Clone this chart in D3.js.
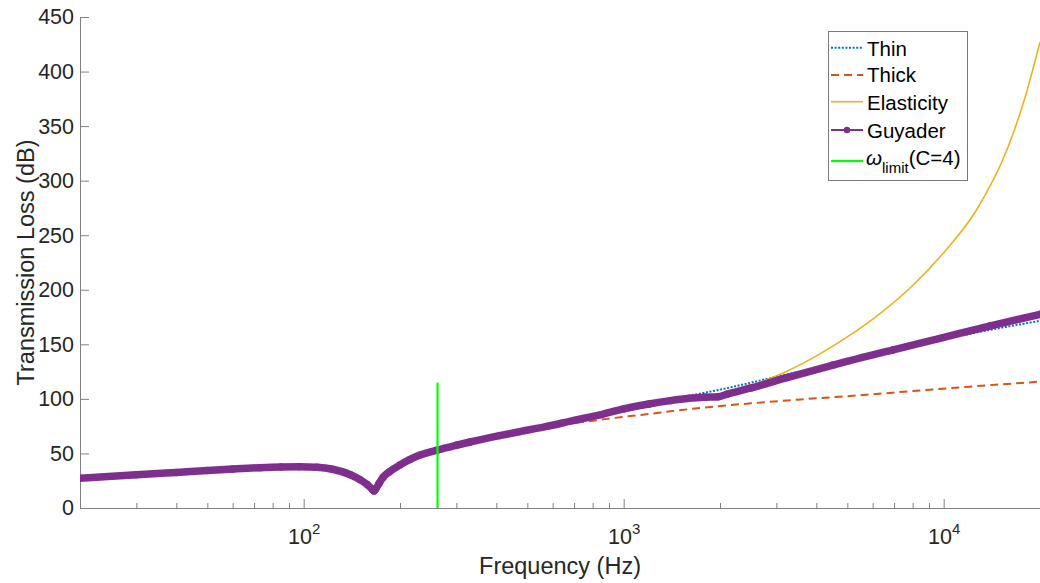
<!DOCTYPE html>
<html>
<head>
<meta charset="utf-8">
<script src="https://cdn.jsdelivr.net/npm/d3@7"></script>
<style>
  html, body { margin: 0; padding: 0; background: #fff; }
  svg { display: block; font-family: "Liberation Sans", Arial, Helvetica, sans-serif; }
</style>
</head>
<body>
<svg id="chart" width="1040" height="583"></svg>
<script>
// ---------------- DATA ----------------
// Shared low-frequency part (all four models coincide here)
const lowFreq = [20, 30, 40, 50, 60, 73, 85, 97, 110, 123, 140, 150, 158, 164, 166, 168, 172, 177, 185, 200, 215, 231, 261, 300, 331, 409, 474];
const lowTL   = [27.2, 30.4, 32.6, 34.3, 35.7, 37.0, 37.6, 37.8, 37.3, 35.5, 30.5, 26, 21.5, 17, 15.5, 17.5, 22.5, 28, 33, 39.5, 44.5, 48.5, 53, 57.5, 60.5, 66.3, 70];

// Thin plate model
const thinFreqHi = [575, 700, 850, 1000, 1400, 2000, 3240, 4500, 6000, 8000, 10000, 13000, 16000, 20000];
const thinTLHi   = [74.8, 80.3, 85.6, 91.3, 99.6, 108.5, 122.5, 131.5, 140, 148.5, 154.5, 161.5, 166.5, 171.5];

// Thick plate model
const thickFreqHi = [500, 575, 700, 850, 1000, 1125, 1400, 1800, 2500, 3500, 5750, 8000, 12000, 20000];
const thickTLHi   = [71.4, 74.2, 77.8, 81, 83.6, 85.2, 88.6, 92.2, 95.9, 99.3, 103.8, 107.2, 111.2, 115.8];

// Elasticity model
const elasFreqHi = [575, 700, 850, 1000, 1259, 1585, 1995, 2512, 3162, 3981, 5012, 6310, 7943, 10000, 12589, 15849, 17783, 20000];
const elasTLHi   = [74.8, 80.3, 85.6, 90.5, 95.3, 99.3, 103.2, 112.5, 124, 139, 157, 178, 203, 234, 272, 330, 372, 427];

// Guyader model
const guyFreqHi = [575, 700, 850, 1000, 1200, 1400, 1600, 1800, 1972, 2100, 2500, 3240, 4510, 6960, 9740, 14000, 20000];
const guyTLHi   = [74.8, 80.3, 85.6, 90.8, 95.3, 98.4, 100.5, 101.6, 102.0, 104.2, 110, 119.5, 131, 145, 155.5, 167, 177.5];

// omega_limit (C=4) vertical marker
const omegaLimitFreq = 262;
const omegaLimitTop = 115;

// Axes ticks
const yTicks = [0, 50, 100, 150, 200, 250, 300, 350, 400, 450];
const xMajorTicks = [100, 1000, 10000];
const xMajorExp = ["2", "3", "4"];
const xMinorTicks = [30, 40, 50, 60, 70, 80, 90, 200, 300, 400, 500, 600, 700, 800, 900,
                     2000, 3000, 4000, 5000, 6000, 7000, 8000, 9000];

const legendLabels = ["Thin", "Thick", "Elasticity", "Guyader"];

// ---------------- BUILD SERIES ----------------
function build(fLo, tLo, fHi, tHi) {
  const pts = [];
  fLo.forEach((f, i) => { if (f < fHi[0]) pts.push({ f: f, v: tLo[i] }); });
  fHi.forEach((f, i) => pts.push({ f: f, v: tHi[i] }));
  return pts;
}
const thin  = build(lowFreq, lowTL.map((v, i) => lowFreq[i] === 166 ? 14.5 : v), thinFreqHi, thinTLHi);
const thick = build(lowFreq, lowTL, thickFreqHi, thickTLHi);
const elas  = build(lowFreq, lowTL, elasFreqHi, elasTLHi);
const guy   = build(lowFreq, lowTL, guyFreqHi, guyTLHi);

// ---------------- CHART ----------------
const svg = d3.select("#chart");
const L = 80, R = 1040, T = 17, B = 508;
const x = d3.scaleLog().domain([20, 20000]).range([L, R]);
const y = d3.scaleLinear().domain([0, 450]).range([B, T]);

const COLORS = { thin: "#0072BD", thick: "#D95319", elas: "#EDB120", guy: "#7E2F8E", omega: "#00FF00" };
const axisColor = "#808080";
const textColor = "#262626";

svg.append("defs").append("clipPath").attr("id", "plotclip")
  .append("rect").attr("x", L).attr("y", T - 5).attr("width", R - L).attr("height", B - T + 5);

// Axes
const gx = svg.append("g").attr("transform", `translate(0,${B})`);
gx.call(d3.axisBottom(x).tickValues(xMinorTicks).tickSize(-5).tickSizeOuter(0).tickFormat(""));
const gx2 = svg.append("g").attr("transform", `translate(0,${B})`);
gx2.call(d3.axisBottom(x).tickValues(xMajorTicks).tickSize(-9).tickSizeOuter(0).tickPadding(20).tickFormat(""));
[gx, gx2].forEach(g => {
  g.selectAll("path.domain").attr("stroke", axisColor);
  g.selectAll(".tick line").attr("stroke", axisColor);
});
gx2.selectAll(".tick text").each(function (d, i) {
  const t = d3.select(this);
  t.text(null).attr("fill", textColor).attr("font-size", "21.5px").attr("dy", null)
    .attr("y", 35.5).attr("text-anchor", "middle").attr("dx", 0)
    .attr("font-family", "'Liberation Sans', Arial, sans-serif");
  t.append("tspan").text("10");
  t.append("tspan").attr("font-size", "15px").attr("dy", "-10").text(xMajorExp[i]);
});
gx2.select("path.domain").remove();

const gy = svg.append("g").attr("transform", `translate(${L},0)`);
gy.call(d3.axisLeft(y).tickValues(yTicks).tickSize(-9).tickSizeOuter(0).tickPadding(6));
gy.selectAll("path.domain").attr("stroke", axisColor);
gy.selectAll(".tick line").attr("stroke", axisColor);
gy.selectAll(".tick text").attr("fill", textColor).attr("font-size", "21.5px")
  .attr("font-family", "'Liberation Sans', Arial, sans-serif");

// Axis labels
svg.append("text").attr("x", (L + R) / 2).attr("y", 574).attr("text-anchor", "middle")
  .attr("font-size", "23.5px").attr("fill", textColor).text("Frequency (Hz)");
svg.append("text").attr("transform", `translate(34,${(T + B) / 2}) rotate(-90)`)
  .attr("text-anchor", "middle").attr("font-size", "23.5px").attr("fill", textColor)
  .text("Transmission Loss (dB)");

// Lines
const line = d3.line().x(d => x(d.f)).y(d => y(d.v)).curve(d3.curveMonotoneX);
const plot = svg.append("g").attr("clip-path", "url(#plotclip)");

plot.append("path").datum(thin).attr("d", line).attr("fill", "none")
  .attr("stroke", COLORS.thin).attr("stroke-width", 2).attr("stroke-dasharray", "2,1.6");
plot.append("path").datum(thick).attr("d", line).attr("fill", "none")
  .attr("stroke", COLORS.thick).attr("stroke-width", 2).attr("stroke-dasharray", "8,5");
plot.append("path").datum(elas).attr("d", line).attr("fill", "none")
  .attr("stroke", COLORS.elas).attr("stroke-width", 1.6);
plot.append("path").datum(guy).attr("d", line).attr("fill", "none")
  .attr("stroke", COLORS.guy).attr("stroke-width", 7.5).attr("stroke-linejoin", "round").attr("stroke-linecap", "round");
plot.selectAll("circle.guy").data(guy).enter().append("circle").attr("class", "guy")
  .attr("cx", d => x(d.f)).attr("cy", d => y(d.v)).attr("r", 3.7).attr("fill", COLORS.guy);

// omega limit line
plot.append("line").attr("x1", x(omegaLimitFreq)).attr("x2", x(omegaLimitFreq))
  .attr("y1", y(0)).attr("y2", y(omegaLimitTop))
  .attr("stroke", COLORS.omega).attr("stroke-width", 2.2);

// Legend
const lg = svg.append("g");
lg.append("rect").attr("x", 828.5).attr("y", 31.5).attr("width", 139).attr("height", 149)
  .attr("fill", "#fff").attr("stroke", "#7a7a7a").attr("stroke-width", 1);
const rowsY = [47.7, 75, 101.7, 130, 161];
const baseY = [55.7, 82.3, 110, 137.7];
const styles = [
  { c: COLORS.thin, w: 2, dash: "2,1.6" },
  { c: COLORS.thick, w: 2, dash: "8,5" },
  { c: COLORS.elas, w: 1.6, dash: null },
  { c: COLORS.guy, w: 2, dash: null },
  { c: COLORS.omega, w: 2.2, dash: null }
];
styles.forEach((s, i) => {
  const l = lg.append("line").attr("x1", 831).attr("x2", 863).attr("y1", rowsY[i]).attr("y2", rowsY[i])
    .attr("stroke", s.c).attr("stroke-width", s.w);
  if (s.dash) l.attr("stroke-dasharray", s.dash);
});
lg.append("circle").attr("cx", 847).attr("cy", rowsY[3]).attr("r", 3.2).attr("fill", COLORS.guy);
legendLabels.forEach((t, i) => {
  lg.append("text").attr("x", 867).attr("y", baseY[i]).attr("font-size", "20.5px")
    .attr("fill", "#000").text(t);
});
const om = lg.append("text").attr("x", 866).attr("y", 165).attr("font-size", "20.5px").attr("fill", "#000");
om.append("tspan").attr("font-style", "italic").text("ω");
om.append("tspan").attr("font-size", "15px").attr("dy", 8).text("limit");
om.append("tspan").attr("dy", -8).text("(C=4)");
</script>
</body>
</html>
